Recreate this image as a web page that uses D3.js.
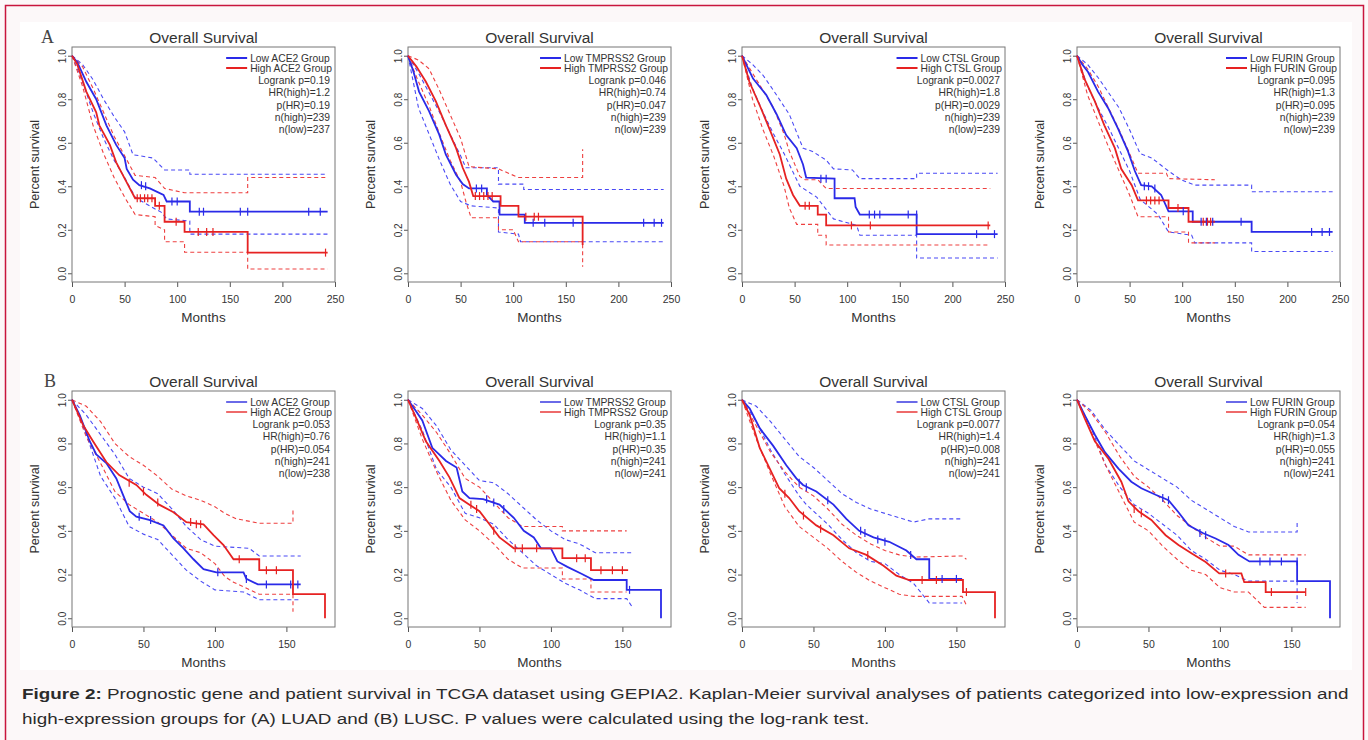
<!DOCTYPE html>
<html>
<head>
<meta charset="utf-8">
<script src="https://cdn.jsdelivr.net/npm/d3@7"></script>
<style>
  body { margin: 0; background: #fcf8f9; }
  svg { display: block; font-family: "Liberation Sans", Arial, sans-serif; }
</style>
</head>
<body>
<div id="chart"></div>
<script>
// ---- data: [months, survival] ----
const genes = ["ACE2", "TMPRSS2", "CTSL", "FURIN"];
const xTicksA = [0, 50, 100, 150, 200, 250];
const xTicksB = [0, 50, 100, 150];
const yTicks = [0, 0.2, 0.4, 0.6, 0.8, 1.0];

const statsA = [
  ["Logrank p=0.19", "HR(high)=1.2", "p(HR)=0.19", "n(high)=239", "n(low)=237"],
  ["Logrank p=0.046", "HR(high)=0.74", "p(HR)=0.047", "n(high)=239", "n(low)=239"],
  ["Logrank p=0.0027", "HR(high)=1.8", "p(HR)=0.0029", "n(high)=239", "n(low)=239"],
  ["Logrank p=0.095", "HR(high)=1.3", "p(HR)=0.095", "n(high)=239", "n(low)=239"]
];
const statsB = [
  ["Logrank p=0.053", "HR(high)=0.76", "p(HR)=0.054", "n(high)=241", "n(low)=238"],
  ["Logrank p=0.35", "HR(high)=1.1", "p(HR)=0.35", "n(high)=241", "n(low)=241"],
  ["Logrank p=0.0077", "HR(high)=1.4", "p(HR)=0.008", "n(high)=241", "n(low)=241"],
  ["Logrank p=0.054", "HR(high)=1.3", "p(HR)=0.055", "n(high)=241", "n(low)=241"]
];

// A: LUAD
const A1_lowMain = [[0,1],[5,0.97],[13.6,0.88],[23,0.80],[32.7,0.68],[42,0.59],[50,0.53],[52,0.48],[58,0.43],[64,0.405],[74,0.39],[87,0.36],[90,0.33],[112,0.33],[112,0.283],[243,0.283]];
const A1_lowUp = [[0,1],[10,0.96],[20,0.89],[30,0.80],[40,0.72],[50,0.65],[58,0.545],[77,0.53],[88,0.475],[112,0.475],[112,0.455],[243,0.455]];
const A1_lowLo = [[0,1],[10,0.88],[20,0.74],[30,0.62],[40,0.52],[50,0.44],[60,0.35],[70,0.32],[85,0.28],[90,0.25],[112,0.24],[112,0.18],[243,0.18]];
const A1_highMain = [[0,1],[5,0.96],[13.6,0.835],[23,0.74],[26,0.68],[36,0.59],[42,0.51],[48.5,0.45],[55,0.39],[60,0.345],[79,0.345],[79,0.31],[88,0.31],[88,0.237],[107,0.237],[107,0.19],[167,0.19],[167,0.095],[243,0.095]];
const A1_highUp = [[0,1],[10,0.95],[20,0.85],[30,0.74],[40,0.63],[50,0.54],[60,0.45],[79,0.44],[88,0.39],[107,0.37],[167,0.37],[167,0.44],[243,0.44]];
const A1_highLo = [[0,1],[10,0.86],[20,0.68],[30,0.55],[40,0.44],[50,0.35],[60,0.27],[79,0.26],[79,0.22],[88,0.20],[88,0.145],[107,0.145],[107,0.097],[167,0.097],[167,0.02],[243,0.02]];
const A1_lowCens = [[66,0.405],[70,0.40],[95,0.33],[100,0.33],[121,0.283],[125,0.283],[160,0.283],[167,0.283],[225,0.283],[236,0.283]];
const A1_highCens = [[62,0.345],[65,0.345],[69,0.345],[72,0.345],[76,0.345],[83,0.31],[99,0.237],[120,0.19],[128,0.19],[134,0.19],[241,0.095]];

const A2_lowMain = [[0,1],[5,0.93],[10.5,0.835],[20,0.745],[29.7,0.637],[36,0.545],[45.7,0.453],[52,0.41],[58,0.39],[75,0.39],[75,0.36],[81,0.33],[87,0.33],[87,0.27],[111,0.27],[111,0.232],[243,0.232]];
const A2_lowUp = [[0,1],[10,0.92],[20,0.83],[30,0.74],[40,0.64],[50,0.54],[55,0.485],[86,0.485],[86,0.41],[110,0.41],[110,0.385],[243,0.385]];
const A2_lowLo = [[0,1],[10,0.76],[20,0.64],[30,0.52],[40,0.41],[50,0.33],[60,0.31],[86,0.30],[86,0.19],[105,0.18],[107,0.145],[243,0.145]];
const A2_highMain = [[0,1],[8,0.95],[17,0.88],[26.5,0.79],[36,0.68],[45.7,0.575],[52,0.485],[58,0.42],[62,0.355],[88,0.355],[88,0.31],[105,0.31],[105,0.26],[166,0.26],[166,0.13]];
const A2_highUp = [[0,1],[10,0.98],[20,0.94],[30,0.84],[40,0.73],[50,0.62],[58,0.49],[86,0.48],[105,0.44],[166,0.44],[166,0.57]];
const A2_highLo = [[0,1],[10,0.88],[20,0.77],[30,0.64],[40,0.52],[50,0.42],[55,0.33],[60,0.255],[86,0.255],[86,0.20],[100,0.20],[105,0.145],[166,0.145],[166,0.03]];
const A2_lowCens = [[65,0.39],[70,0.39],[119,0.232],[130,0.232],[157,0.232],[224,0.232],[234,0.232],[241,0.232]];
const A2_highCens = [[64,0.355],[68,0.355],[72,0.355],[76,0.355],[80,0.355],[112,0.26],[120,0.26],[124,0.26]];

const A3_lowMain = [[0,1],[5,0.95],[10.5,0.895],[23,0.82],[33,0.73],[42,0.635],[52,0.575],[58,0.50],[61,0.44],[88,0.435],[88,0.345],[107,0.345],[108,0.305],[112,0.27],[166,0.27],[166,0.18],[243,0.18]];
const A3_lowUp = [[0,1],[10,0.96],[20,0.91],[30,0.84],[45,0.73],[58,0.575],[67,0.56],[80,0.52],[87,0.48],[105,0.475],[112,0.435],[166,0.435],[166,0.46],[243,0.46]];
const A3_lowLo = [[0,1],[10,0.85],[20,0.74],[30,0.64],[40,0.55],[50,0.45],[55,0.40],[71,0.35],[87,0.25],[109,0.22],[112,0.175],[166,0.175],[166,0.07],[243,0.07]];
const A3_highMain = [[0,1],[7,0.88],[17,0.77],[26,0.665],[36,0.545],[42,0.435],[48.5,0.36],[55,0.31],[72,0.31],[72,0.27],[80,0.27],[80,0.22],[236,0.22]];
const A3_highUp = [[0,1],[10,0.92],[20,0.84],[30,0.76],[40,0.64],[45,0.56],[55,0.445],[60,0.43],[72,0.43],[80,0.39],[236,0.39]];
const A3_highLo = [[0,1],[10,0.80],[20,0.66],[30,0.54],[40,0.40],[45,0.30],[52,0.225],[72,0.225],[72,0.175],[80,0.175],[80,0.13],[236,0.13]];
const A3_lowCens = [[75,0.435],[80,0.435],[121,0.27],[126,0.27],[131,0.27],[158,0.27],[166,0.27],[223,0.18],[240,0.18]];
const A3_highCens = [[60,0.31],[64,0.31],[104,0.22],[122,0.22],[234,0.22]];

const A4_lowMain = [[0,1],[5,0.96],[10.5,0.925],[20,0.835],[29.5,0.76],[39,0.665],[48.5,0.56],[55,0.47],[61,0.405],[71,0.40],[80,0.36],[87,0.285],[110,0.285],[110,0.237],[166,0.237],[166,0.19],[243,0.19]];
const A4_lowUp = [[0,1],[10,0.96],[20,0.90],[30,0.83],[40,0.76],[50,0.66],[60,0.55],[71,0.53],[87,0.47],[99,0.43],[112,0.405],[166,0.405],[166,0.375],[243,0.375]];
const A4_lowLo = [[0,1],[10,0.86],[20,0.76],[30,0.67],[40,0.57],[50,0.47],[60,0.34],[77,0.27],[87,0.19],[109,0.175],[112,0.14],[166,0.14],[166,0.10],[243,0.10]];
const A4_highMain = [[0,1],[7,0.895],[17,0.79],[26,0.68],[36,0.575],[42,0.48],[52,0.405],[58,0.335],[87,0.335],[87,0.30],[106,0.30],[106,0.237],[131,0.237]];
const A4_highUp = [[0,1],[10,0.94],[20,0.86],[30,0.76],[40,0.66],[50,0.55],[58,0.46],[85,0.46],[87,0.435],[131,0.43]];
const A4_highLo = [[0,1],[10,0.82],[20,0.70],[30,0.58],[40,0.47],[50,0.36],[58,0.26],[87,0.26],[87,0.19],[106,0.19],[106,0.14],[131,0.14]];
const A4_lowCens = [[64,0.40],[68,0.40],[74,0.39],[101,0.285],[118,0.237],[123,0.237],[129,0.237],[156,0.237],[223,0.19],[233,0.19],[240,0.19]];
const A4_highCens = [[66,0.335],[70,0.335],[74,0.335],[78,0.335],[96,0.30],[120,0.237],[124,0.237],[127,0.237]];

// B: LUSC
const B1_lowMain = [[0,1],[5.4,0.93],[12.4,0.81],[17,0.75],[24,0.71],[31,0.64],[35.7,0.565],[40.4,0.49],[45,0.465],[54,0.45],[64,0.425],[71,0.365],[78,0.32],[85,0.27],[92,0.225],[101,0.21],[120,0.21],[122,0.18],[130,0.155],[160,0.155]];
const B1_lowUp = [[0,1],[10,0.93],[20,0.84],[30,0.75],[40,0.64],[50,0.60],[60,0.57],[70,0.50],[80,0.42],[90,0.36],[100,0.33],[124,0.32],[131,0.285],[160,0.285]];
const B1_lowLo = [[0,1],[10,0.84],[20,0.65],[30,0.55],[40,0.42],[50,0.385],[60,0.36],[70,0.29],[80,0.22],[90,0.17],[100,0.13],[120,0.12],[131,0.085],[160,0.085]];
const B1_highMain = [[0,1],[7.7,0.885],[14.7,0.81],[24,0.715],[33,0.655],[45,0.61],[52,0.565],[61,0.52],[71,0.485],[80,0.44],[92,0.43],[99,0.38],[106,0.335],[113,0.27],[131,0.27],[131,0.22],[154.6,0.22],[154.6,0.11],[177,0.11],[177,0]];
const B1_highUp = [[0,1],[10,0.97],[20,0.90],[30,0.80],[40,0.74],[50,0.70],[60,0.65],[70,0.59],[80,0.56],[90,0.54],[100,0.51],[107,0.48],[115,0.455],[131,0.435],[154.6,0.435],[154.6,0.50]];
const B1_highLo = [[0,1],[10,0.83],[20,0.71],[30,0.58],[40,0.52],[50,0.48],[60,0.44],[70,0.38],[80,0.32],[90,0.30],[100,0.25],[107,0.19],[113,0.165],[131,0.11],[154.6,0.11],[154.6,0.03]];
const B1_lowCens = [[47,0.465],[55,0.45],[102,0.21],[122,0.18],[136,0.155],[153,0.155],[158,0.155]];
const B1_highCens = [[40,0.62],[50,0.58],[60,0.53],[83,0.44],[87,0.43],[90,0.43],[117,0.27],[136,0.22],[143,0.22]];

const B2_lowMain = [[0,1],[5.4,0.95],[10,0.905],[17,0.78],[26.6,0.72],[34,0.69],[38,0.58],[43,0.55],[52.6,0.545],[64,0.52],[74,0.46],[81,0.40],[88,0.37],[93,0.32],[100,0.32],[104.5,0.26],[111.5,0.235],[121,0.205],[130,0.175],[153,0.175],[153,0.13],[177,0.13],[177,0]];
const B2_lowUp = [[0,1],[10,0.96],[20,0.88],[30,0.77],[40,0.70],[50,0.63],[60,0.62],[70,0.57],[80,0.51],[90,0.45],[100,0.40],[110,0.36],[120,0.34],[131,0.30],[157,0.30]];
const B2_lowLo = [[0,1],[10,0.86],[20,0.68],[30,0.60],[40,0.48],[50,0.46],[60,0.43],[70,0.36],[80,0.30],[90,0.24],[100,0.20],[110,0.16],[120,0.13],[131,0.09],[153,0.09],[157,0.05]];
const B2_highMain = [[0,1],[5.4,0.92],[12.5,0.81],[22,0.72],[29,0.645],[36,0.55],[43,0.52],[50,0.49],[57,0.43],[64,0.37],[74,0.32],[108,0.32],[108,0.275],[128,0.275],[128,0.22],[154,0.22]];
const B2_highUp = [[0,1],[10,0.93],[20,0.85],[30,0.75],[40,0.64],[50,0.60],[60,0.53],[70,0.46],[80,0.42],[108,0.42],[108,0.40],[153,0.40]];
const B2_highLo = [[0,1],[10,0.82],[20,0.67],[30,0.54],[40,0.45],[50,0.40],[60,0.34],[70,0.27],[80,0.23],[108,0.23],[108,0.18],[128,0.18],[128,0.12],[153,0.12]];
const B2_lowCens = [[55,0.545],[60,0.53],[67,0.50],[155,0.13]];
const B2_highCens = [[44,0.52],[48,0.50],[60,0.40],[75,0.32],[80,0.32],[90,0.32],[118,0.275],[124,0.275],[135,0.22],[143,0.22],[150,0.22]];

const B3_lowMain = [[0,1],[5.4,0.96],[12.4,0.87],[21.7,0.79],[31,0.70],[38,0.64],[42.7,0.61],[52,0.58],[64,0.52],[73,0.455],[82,0.40],[92,0.37],[103,0.35],[115,0.31],[122,0.27],[131,0.27],[131,0.18],[154,0.18]];
const B3_lowUp = [[0,1],[10,0.97],[20,0.90],[30,0.82],[40,0.74],[50,0.69],[60,0.63],[70,0.57],[80,0.53],[90,0.50],[100,0.48],[110,0.46],[120,0.44],[131,0.455],[154,0.455]];
const B3_lowLo = [[0,1],[10,0.90],[20,0.77],[30,0.66],[40,0.56],[45,0.52],[60,0.43],[70,0.36],[80,0.30],[90,0.26],[100,0.25],[110,0.20],[120,0.16],[131,0.07],[154,0.07]];
const B3_highMain = [[0,1],[5.4,0.93],[12.4,0.78],[19.4,0.685],[26,0.595],[33,0.55],[40,0.49],[52,0.425],[64,0.38],[75,0.32],[87,0.29],[99,0.24],[108,0.195],[117,0.175],[154.6,0.175],[154.6,0.12],[177,0.12],[177,0]];
const B3_highUp = [[0,1],[10,0.88],[20,0.76],[30,0.67],[40,0.60],[50,0.56],[60,0.50],[70,0.43],[80,0.38],[90,0.34],[100,0.31],[110,0.29],[120,0.28],[154,0.285],[157,0.27]];
const B3_highLo = [[0,1],[10,0.82],[20,0.66],[30,0.51],[40,0.42],[50,0.37],[60,0.32],[70,0.26],[80,0.21],[90,0.17],[100,0.14],[110,0.11],[120,0.10],[154,0.10],[157,0.06]];
const B3_lowCens = [[40,0.62],[45,0.60],[60,0.54],[83,0.40],[86,0.39],[95,0.36],[100,0.35],[118,0.29],[140,0.18],[150,0.18]];
const B3_highCens = [[30,0.57],[43,0.47],[55,0.41],[88,0.29],[126,0.175],[136,0.175],[157,0.12]];

const B4_lowMain = [[0,1],[5.4,0.93],[12.5,0.84],[19.5,0.76],[29,0.685],[38,0.625],[45,0.595],[55,0.565],[64,0.54],[71,0.485],[78,0.425],[88,0.39],[97,0.365],[106,0.335],[113,0.29],[120.6,0.26],[154,0.26],[154,0.17],[177,0.17],[177,0]];
const B4_lowUp = [[0,1],[10,0.95],[20,0.86],[30,0.79],[40,0.72],[50,0.68],[60,0.64],[70,0.60],[80,0.54],[90,0.50],[100,0.46],[110,0.42],[120,0.395],[154,0.395],[154,0.44]];
const B4_lowLo = [[0,1],[10,0.87],[20,0.70],[30,0.60],[40,0.52],[50,0.48],[60,0.43],[70,0.38],[80,0.31],[90,0.27],[100,0.22],[110,0.20],[120,0.17],[154,0.17],[154,0.07]];
const B4_highMain = [[0,1],[5.4,0.915],[12.5,0.81],[22,0.73],[31,0.625],[36,0.535],[43,0.49],[52,0.45],[62,0.38],[71,0.335],[80.6,0.295],[90,0.257],[99.5,0.205],[115,0.205],[117,0.165],[132,0.165],[132,0.12],[160,0.12]];
const B4_highUp = [[0,1],[10,0.94],[20,0.85],[30,0.74],[40,0.65],[50,0.60],[60,0.54],[70,0.47],[80,0.42],[90,0.37],[100,0.33],[110,0.33],[120,0.29],[160,0.29]];
const B4_highLo = [[0,1],[10,0.85],[20,0.70],[30,0.57],[40,0.44],[50,0.40],[60,0.33],[70,0.27],[80,0.22],[90,0.20],[100,0.14],[110,0.12],[120,0.12],[131,0.05],[160,0.05]];
const B4_lowCens = [[60,0.55],[64,0.54],[86,0.39],[90,0.38],[128,0.26],[135,0.26],[143,0.26],[154,0.26]];
const B4_highCens = [[40,0.50],[45,0.48],[104,0.205],[136,0.12],[160,0.12]];

const caption1 = "Prognostic gene and patient survival in TCGA dataset using GEPIA2. Kaplan-Meier survival analyses of patients categorized into low-expression and";
const caption2 = "high-expression groups for (A) LUAD and (B) LUSC. P values were calculated using the log-rank test.";

// ---- layout ----
const W = 1368, H = 740;
const boxLefts = [72, 408, 742, 1077];
const boxW = 263;
const rowA = { top: 47, bottom: 282, xMax: 250, ticks: xTicksA, stats: statsA, letter: "A" };
const rowB = { top: 391, bottom: 627, xMax: 184, ticks: xTicksB, stats: statsB, letter: "B" };

const curvesA = [
  [A1_lowMain, A1_lowUp, A1_lowLo, A1_highMain, A1_highUp, A1_highLo, A1_lowCens, A1_highCens],
  [A2_lowMain, A2_lowUp, A2_lowLo, A2_highMain, A2_highUp, A2_highLo, A2_lowCens, A2_highCens],
  [A3_lowMain, A3_lowUp, A3_lowLo, A3_highMain, A3_highUp, A3_highLo, A3_lowCens, A3_highCens],
  [A4_lowMain, A4_lowUp, A4_lowLo, A4_highMain, A4_highUp, A4_highLo, A4_lowCens, A4_highCens]
];
const curvesB = [
  [B1_lowMain, B1_lowUp, B1_lowLo, B1_highMain, B1_highUp, B1_highLo, B1_lowCens, B1_highCens],
  [B2_lowMain, B2_lowUp, B2_lowLo, B2_highMain, B2_highUp, B2_highLo, B2_lowCens, B2_highCens],
  [B3_lowMain, B3_lowUp, B3_lowLo, B3_highMain, B3_highUp, B3_highLo, B3_lowCens, B3_highCens],
  [B4_lowMain, B4_lowUp, B4_lowLo, B4_highMain, B4_highUp, B4_highLo, B4_lowCens, B4_highCens]
];

const BLUE = "#2a2ae8", RED = "#e62222";
const BLUE_CI = "#4a4af5", RED_CI = "#ee4040";

const svg = d3.select("#chart").append("svg")
  .attr("width", W).attr("height", H);

// page frame
svg.append("rect").attr("x", 5.5).attr("y", 5.5).attr("width", 1358).attr("height", 760)
  .attr("fill", "#fcf8f9").attr("stroke", "#c8163e").attr("stroke-width", 1.5);
svg.append("rect").attr("x", 20).attr("y", 22).attr("width", 1332).attr("height", 648)
  .attr("fill", "#ffffff");

function drawPanel(row, i, c) {
  const left = boxLefts[i], right = left + boxW;
  const x = d3.scaleLinear().domain([0, row.xMax]).range([left, right]);
  const y = d3.scaleLinear().domain([-0.04, 1.04]).range([row.bottom, row.top]);
  const g = svg.append("g");

  // x axis
  const xa = g.append("g").attr("transform", `translate(0,${row.bottom})`)
    .call(d3.axisBottom(x).tickValues(row.ticks).tickSize(5).tickSizeOuter(0).tickPadding(9));
  xa.select(".domain").remove();
  xa.selectAll("line").attr("stroke", "#555");
  xa.selectAll("text").attr("font-size", 10.5).attr("fill", "#333");

  // y axis with rotated labels
  const ya = g.append("g").attr("transform", `translate(${left},0)`)
    .call(d3.axisLeft(y).tickValues(yTicks).tickFormat(d3.format(".1f")).tickSize(4).tickSizeOuter(0));
  ya.select(".domain").remove();
  ya.selectAll("line").attr("stroke", "#555");
  ya.selectAll("text")
    .attr("x", null).attr("dy", null)
    .attr("transform", "translate(-6,0) rotate(-90)")
    .attr("text-anchor", "middle")
    .attr("font-size", 10).attr("fill", "#333");

  // plot box
  g.append("rect").attr("x", left).attr("y", row.top)
    .attr("width", boxW).attr("height", row.bottom - row.top)
    .attr("fill", "none").attr("stroke", "#777").attr("stroke-width", 1);

  // titles
  g.append("text").attr("x", (left + right) / 2).attr("y", row.top - 4)
    .attr("text-anchor", "middle").attr("font-size", 15.5).attr("fill", "#333")
    .text("Overall Survival");
  g.append("text").attr("x", (left + right) / 2).attr("y", row.bottom + 40)
    .attr("text-anchor", "middle").attr("font-size", 13.5).attr("fill", "#333")
    .text("Months");
  g.append("text")
    .attr("transform", `translate(${left - 33},${(row.top + row.bottom) / 2}) rotate(-90)`)
    .attr("text-anchor", "middle").attr("font-size", 12.5).attr("fill", "#333")
    .text("Percent survival");

  // curves
  const line = d3.line().x(d => x(d[0])).y(d => y(d[1]));
  const series = [
    { data: c[1], color: BLUE_CI, dash: "4,3", w: 1.1 },
    { data: c[2], color: BLUE_CI, dash: "4,3", w: 1.1 },
    { data: c[4], color: RED_CI, dash: "4,3", w: 1.1 },
    { data: c[5], color: RED_CI, dash: "4,3", w: 1.1 },
    { data: c[0], color: BLUE, dash: null, w: 1.8 },
    { data: c[3], color: RED, dash: null, w: 1.8 }
  ];
  series.forEach(s => {
    g.append("path").datum(s.data).attr("d", line)
      .attr("fill", "none").attr("stroke", s.color)
      .attr("stroke-width", s.w).attr("stroke-dasharray", s.dash)
      .attr("stroke-linejoin", "miter");
  });
  [[c[6], BLUE], [c[7], RED]].forEach(([cens, col]) => {
    g.selectAll(null).data(cens).enter().append("line")
      .attr("x1", d => x(d[0])).attr("x2", d => x(d[0]))
      .attr("y1", d => y(d[1]) - 4).attr("y2", d => y(d[1]) + 4)
      .attr("stroke", col).attr("stroke-width", 1.2);
  });

  // legend
  const gene = genes[i];
  const labels = [`Low ${gene} Group`, `High ${gene} Group`];
  const lg = g.append("g").attr("font-size", 10.3).attr("fill", "#333");
  const lt = lg.selectAll(null).data(labels).enter().append("text")
    .attr("y", (d, k) => row.top + 14.5 + k * 10).text(d => d);
  let maxW = 0;
  lt.each(function () { maxW = Math.max(maxW, this.getComputedTextLength()); });
  const tx = right - 3 - maxW;
  lt.attr("x", tx);
  lg.selectAll(null).data(r === 0 ? [BLUE, RED] : ["#6a6ae8", "#ee6a6a"]).enter().append("line")
    .attr("x1", tx - 24).attr("x2", tx - 3)
    .attr("y1", (d, k) => row.top + 11 + k * 10).attr("y2", (d, k) => row.top + 11 + k * 10)
    .attr("stroke", d => d).attr("stroke-width", 2);
  lg.selectAll(null).data(row.stats[i]).enter().append("text")
    .attr("x", right - 5).attr("y", (d, k) => row.top + 37 + k * 12.3)
    .attr("text-anchor", "end").text(d => d);
}

let r = 0;
[rowA, rowB].forEach((row, ri) => {
  r = ri;
  const curves = ri === 0 ? curvesA : curvesB;
  for (let i = 0; i < 4; i++) drawPanel(row, i, curves[i]);
  svg.append("text").attr("x", ri === 0 ? 41 : 44).attr("y", row.top - 4)
    .attr("font-family", "'Liberation Serif', 'DejaVu Serif', serif")
    .attr("font-size", 18).attr("fill", "#444").text(row.letter);
});

// caption: the figure's caption is set wider than the installed sans, so stretch it to fit
const cap = svg.append("g").attr("font-size", 15.5).attr("fill", "#2b2b2b");
const c1 = cap.append("text").attr("x", 0).attr("y", 699);
c1.append("tspan").attr("font-weight", "bold").text("Figure 2:");
c1.append("tspan").text(" " + caption1);
cap.append("text").attr("x", 0).attr("y", 724).text(caption2);
const k = 1327 / c1.node().getComputedTextLength();
cap.attr("transform", `translate(22,0) scale(${k},1)`);
</script>
</body>
</html>
